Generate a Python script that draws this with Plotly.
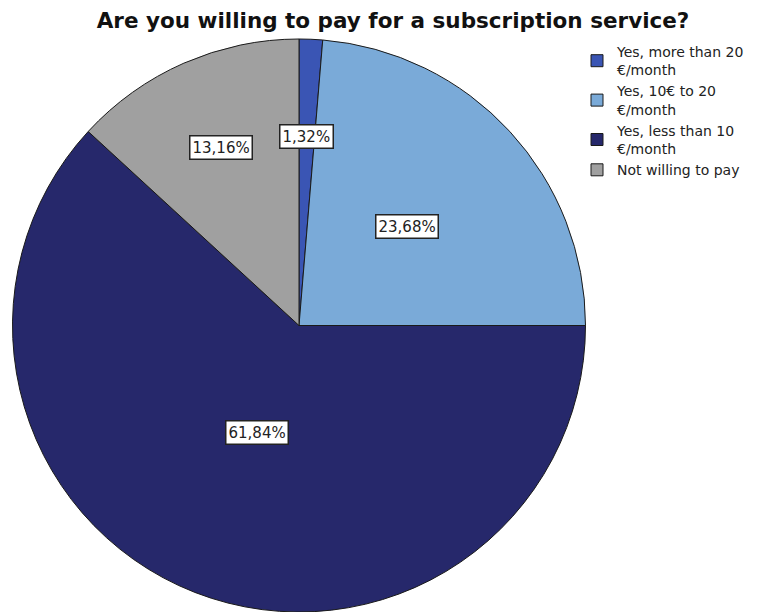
import math
import plotly.graph_objects as go

categories = ["Yes, more than 20<br>€/month", "Yes, 10€ to 20<br>€/month",
              "Yes, less than 10<br>€/month", "Not willing to pay"]
percentages = [1.32, 23.68, 61.84, 13.16]
label_texts = ["1,32%", "23,68%", "61,84%", "13,16%"]
colors = ["#3a55b4", "#7aaad8", "#26286b", "#a0a0a0"]
label_radius = [0.66, 0.51, 0.40, 0.68]

W, H = 757, 612
dom_x = [12.5 / W, 585.5 / W]
dom_y = [0.0, (H - 39) / H]

fig = go.Figure(go.Pie(
    labels=categories,
    values=percentages,
    sort=False,
    direction="clockwise",
    rotation=0,
    marker=dict(colors=colors, line=dict(color="#1a1a1a", width=1)),
    textinfo="none",
    hoverinfo="label+percent",
    domain=dict(x=dom_x, y=dom_y),
))

# value labels in boxes, placed along each slice's mid-angle
cx = (dom_x[0] + dom_x[1]) / 2 * W
cy = (1 - (dom_y[0] + dom_y[1]) / 2) * H
R = min((dom_x[1] - dom_x[0]) * W, (dom_y[1] - dom_y[0]) * H) / 2
total = sum(percentages)
cum = 0.0
for val, txt, rf in zip(percentages, label_texts, label_radius):
    mid = (cum + val / 2) / total * 2 * math.pi
    cum += val
    px = cx + rf * R * math.sin(mid)
    py = cy - rf * R * math.cos(mid)
    fig.add_annotation(
        x=px / W, y=1 - py / H, xref="paper", yref="paper",
        xanchor="center", yanchor="middle",
        text=txt, showarrow=False,
        font=dict(family="DejaVu Sans", size=15, color="#222222"),
        bgcolor="white", bordercolor="#222222", borderwidth=1.5, borderpad=2,
    )

fig.update_layout(
    width=W, height=H, autosize=False,
    margin=dict(l=0, r=0, t=0, b=0),
    paper_bgcolor="white", plot_bgcolor="white",
    title=dict(text="<b>Are you willing to pay for a subscription service?</b>",
               x=393 / W, xanchor="center", y=1 - 20 / H, yanchor="middle",
               font=dict(family="DejaVu Sans", size=21.5, color="#111111")),
    legend=dict(x=577 / W, y=1 - 36 / H, xanchor="left", yanchor="top",
                font=dict(family="DejaVu Sans", size=14, color="#222222"),
                itemwidth=30, tracegroupgap=0, bgcolor="rgba(0,0,0,0)"),
    showlegend=True,
)

fig.write_html("out.html")
